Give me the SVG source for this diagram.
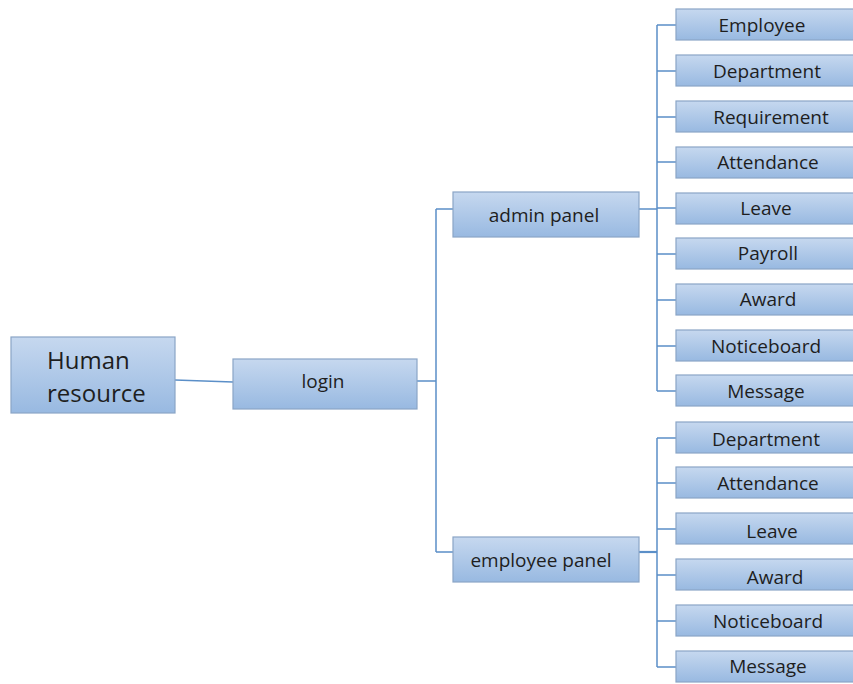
<svg xmlns="http://www.w3.org/2000/svg" width="853" height="684" viewBox="0 0 853 684">
<defs>
<linearGradient id="g" x1="0" y1="0" x2="0" y2="1">
<stop offset="0" stop-color="#c6d8ef"/>
<stop offset="1" stop-color="#98b9e1"/>
</linearGradient>
</defs>
<style>
.b{fill:url(#g);stroke:#8aa5c6;stroke-width:1.2}
.t{font-family:"Open Sans","Liberation Sans",sans-serif;font-size:19px;fill:#1e1e1e;text-anchor:middle;dominant-baseline:central}
.h{font-family:"Open Sans","Liberation Sans",sans-serif;font-size:24px;fill:#1e1e1e;dominant-baseline:central}
.c{fill:none;stroke:#5b8fc8;stroke-width:1.5}
</style>
<rect width="853" height="684" fill="#fff"/>
<g id="connectors" class="c">
<path d="M175,380 L233,382"/>
<path d="M417,381 H436 M436,209 V552 M436,209 H453 M436,552 H453"/>
<path d="M639,209 H657 M657,25 V391 M657,25 H676 M657,71 H676 M657,117 H676 M657,162 H676 M657,208 H676 M657,254 H676 M657,300 H676 M657,346 H676 M657,391 H676"/>
<path d="M639,552 H657" stroke-width="2.2"/>
<path d="M657,438 V667 M657,438 H676 M657,483 H676 M657,529 H676 M657,575 H676 M657,621 H676 M657,667 H676"/>
</g>
<g id="hr"><rect class="b" x="11" y="337" width="164" height="76"/><text class="h" x="47" y="359">Human</text><text class="h" x="47" y="392">resource</text></g>
<g id="login"><rect class="b" x="233" y="359" width="184" height="50"/><text class="t" x="323" y="381">login</text></g>
<g id="admin"><rect class="b" x="453" y="192" width="186" height="45"/><text class="t" x="544" y="215">admin panel</text></g>
<g id="employee"><rect class="b" x="453" y="537" width="186" height="45"/><text class="t" x="541" y="560">employee panel</text></g>
<g id="a1"><rect class="b" x="676" y="9" width="180" height="31"/><text class="t" x="762" y="24.5">Employee</text></g>
<g id="a2"><rect class="b" x="676" y="55" width="180" height="31"/><text class="t" x="767" y="70.5">Department</text></g>
<g id="a3"><rect class="b" x="676" y="101" width="180" height="31"/><text class="t" x="771" y="116.5">Requirement</text></g>
<g id="a4"><rect class="b" x="676" y="147" width="180" height="31"/><text class="t" x="768" y="162">Attendance</text></g>
<g id="a5"><rect class="b" x="676" y="193" width="180" height="31"/><text class="t" x="766" y="207.5">Leave</text></g>
<g id="a6"><rect class="b" x="676" y="238" width="180" height="31"/><text class="t" x="768" y="253">Payroll</text></g>
<g id="a7"><rect class="b" x="676" y="284" width="180" height="31"/><text class="t" x="768" y="299">Award</text></g>
<g id="a8"><rect class="b" x="676" y="330" width="180" height="31"/><text class="t" x="766" y="346">Noticeboard</text></g>
<g id="a9"><rect class="b" x="676" y="375" width="180" height="31"/><text class="t" x="766" y="391">Message</text></g>
<g id="e1"><rect class="b" x="676" y="422" width="180" height="31"/><text class="t" x="766" y="439">Department</text></g>
<g id="e2"><rect class="b" x="676" y="467" width="180" height="31"/><text class="t" x="768" y="483">Attendance</text></g>
<g id="e3"><rect class="b" x="676" y="513" width="180" height="31"/><text class="t" x="772" y="531">Leave</text></g>
<g id="e4"><rect class="b" x="676" y="559" width="180" height="31"/><text class="t" x="775" y="577">Award</text></g>
<g id="e5"><rect class="b" x="676" y="605" width="180" height="31"/><text class="t" x="768" y="621">Noticeboard</text></g>
<g id="e6"><rect class="b" x="676" y="651" width="180" height="31"/><text class="t" x="768" y="666">Message</text></g>
</svg>
